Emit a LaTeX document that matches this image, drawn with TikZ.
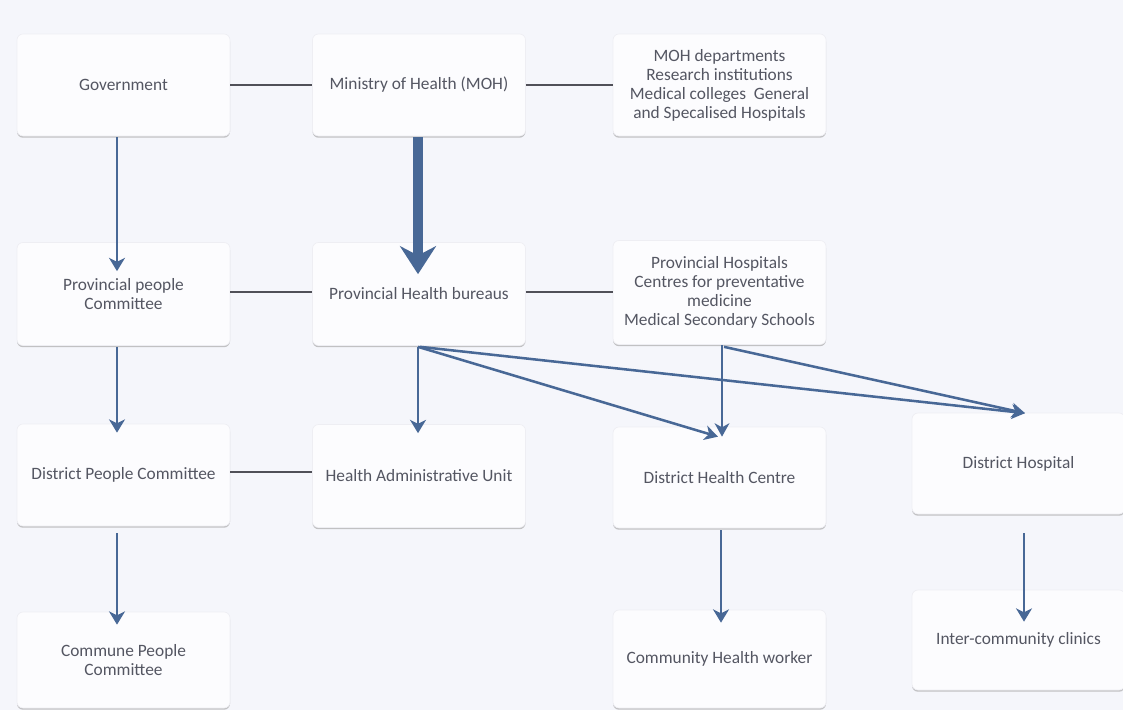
\documentclass[tikz,border=0pt]{standalone}
\usepackage{fontspec}
\setmainfont{Carlito}
\usetikzlibrary{arrows.meta,calc,shadows}

\definecolor{pagebg}{RGB}{245,246,251}
\definecolor{boxfill}{RGB}{252,252,254}
\definecolor{boxline}{RGB}{238,238,243}
\definecolor{labeltext}{RGB}{84,86,98}
\definecolor{flowblue}{RGB}{72,104,150}
\definecolor{linkgray}{RGB}{80,80,88}

\tikzset{
  orgbox/.style={
    rectangle, rounded corners=4.5pt, fill=boxfill, draw=boxline, line width=0.5pt,
    minimum width=159.75pt, minimum height=76.5pt, align=center,
    text=labeltext, font=\fontsize{13}{14.2}\selectfont, inner sep=2pt,
    drop shadow={shadow xshift=0pt, shadow yshift=-1.3pt, opacity=0.6, fill=gray!75}
  },
  link/.style={draw=linkgray, line width=1.1pt},
  flow/.style={draw=flowblue, line width=2.2pt,
    -{Stealth[length=10pt,width=12pt,inset=3pt]}},
  slant/.style={draw=flowblue, line width=1.9pt,
    -{Stealth[length=10pt,width=11pt,inset=3pt]}},
  heavyflow/.style={draw=flowblue, line width=6.8pt,
    -{Stealth[length=21pt,width=27pt,inset=7pt]}}
}

\begin{document}
\begin{tikzpicture}[x=0.75pt, y=-0.75pt]
  % canvas
  \fill[pagebg] (0,0) rectangle (1123,710);
  \useasboundingbox (0,0) rectangle (1123,710);

  % national level
  \node[orgbox] (gov)  at (123.5,85) {Government};
  \node[orgbox] (moh)  at (419,85)   {Ministry of Health (MOH)};
  \node[orgbox] (mohd) at (719.5,85) {MOH departments\\Research institutions\\Medical colleges\ \ General\\and Specalised Hospitals};

  % provincial level
  \node[orgbox, minimum height=77.25pt] (ppc) at (123.5,294) {Provincial people\\Committee};
  \node[orgbox, minimum height=77.25pt] (phb) at (419,294)   {Provincial Health bureaus};
  \node[orgbox, minimum height=78pt]    (ph)  at (719.5,292.5) {Provincial Hospitals\\Centres for preventative\\medicine\\Medical Secondary Schools};

  % district level
  \node[orgbox] (dpc) at (123.5,475)  {District People Committee};
  \node[orgbox, minimum height=77.25pt] (hau) at (419,476)    {Health Administrative Unit};
  \node[orgbox, minimum height=75.75pt] (dhc) at (719.5,477.5)  {District Health Centre};
  \node[orgbox, minimum height=75.75pt] (dh)  at (1018.5,463.5) {District Hospital};

  % commune level
  \node[orgbox, minimum height=72pt]   (cpc) at (123.5,660)  {Commune People\\Committee};
  \node[orgbox, minimum height=73.5pt] (chw) at (719.5,659)  {Community Health worker};
  \node[orgbox, minimum height=75pt]   (icc) at (1018.5,640) {Inter-community clinics};

  % horizontal links
  \draw[link] (gov.east) -- (moh.west);
  \draw[link] (moh.east) -- (mohd.west);
  \draw[link] ($(ppc.east)+(0,-2)$) -- ($(phb.west)+(0,-2)$);
  \draw[link] ($(phb.east)+(0,-2)$) -- ($(ph.west)+(0,-0.5)$);
  \draw[link] ($(dpc.east)+(0,-3)$) -- ($(hau.west)+(0,-4)$);

  % vertical chains
  \draw[flow] ($(gov.south)+(-6.5,1)$) -- ($(ppc.north)+(-6.5,29)$);
  \draw[heavyflow] ($(moh.south)+(-1,1)$) -- ($(phb.north)+(-1,32)$);
  \draw[flow] ($(ppc.south)+(-6.5,1)$) -- ($(dpc.north)+(-6.5,9)$);
  \draw[flow] ($(dpc.south)+(-6.5,7)$) -- ($(cpc.north)+(-6.5,13)$);
  \draw[flow] ($(phb.south)+(-1,1)$) -- ($(hau.north)+(-1,9)$);
  \draw[flow] ($(dhc.south)+(1.5,2)$) -- ($(chw.north)+(1.5,13)$);
  \draw[flow] ($(dh.south)+(5.5,19)$) -- ($(icc.north)+(5.5,32)$);

  % provincial bureau and hospitals to district services
  \draw[slant] ($(phb.south)+(-1,1)$) -- ($(dhc.north)+(-1.5,10)$);
  \draw[slant] ($(phb.south)+(1,1)$) -- ($(dh.north)+(6.5,0.5)$);
  \draw[slant] ($(ph.south)+(2.5,0.5)$) -- ($(dhc.north)+(2.5,10)$);
  \draw[slant] ($(ph.south)+(4.5,2)$) -- ($(dh.north)+(6.5,0.5)$);
\end{tikzpicture}
\end{document}
